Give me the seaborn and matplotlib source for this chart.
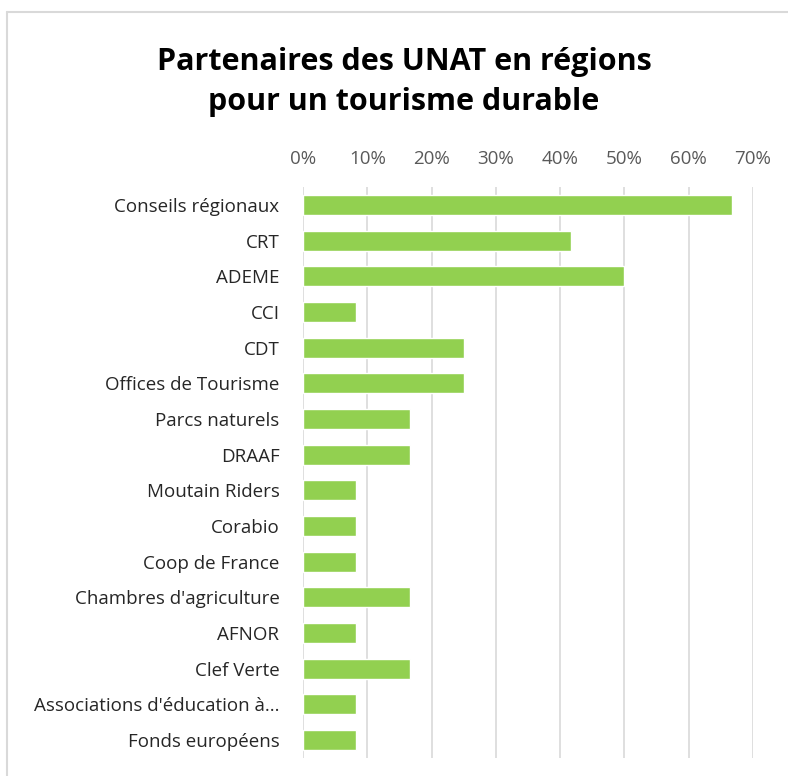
import matplotlib
matplotlib.use("Agg")
import matplotlib.pyplot as plt
import seaborn as sns
import pandas as pd
from matplotlib.lines import Line2D
from matplotlib.ticker import PercentFormatter

categories = ["Conseils régionaux", "CRT", "ADEME", "CCI", "CDT", "Offices de Tourisme",
              "Parcs naturels", "DRAAF", "Moutain Riders", "Corabio", "Coop de France",
              "Chambres d'agriculture", "AFNOR", "Clef Verte", "Associations d'éducation à...",
              "Fonds européens"]
values = [0.667, 0.417, 0.50, 0.083, 0.25, 0.25, 0.167, 0.167, 0.083, 0.083, 0.083,
          0.167, 0.083, 0.167, 0.083, 0.083]
ticks = [0, 0.1, 0.2, 0.3, 0.4, 0.5, 0.6, 0.7]

df = pd.DataFrame({"cat": categories, "val": values})

sns.set_theme(style="white")
plt.rcParams["font.family"] = ["Open Sans", "DejaVu Sans"]

W, H = 788, 776
fig = plt.figure(figsize=(W / 100, H / 100), dpi=100)
ax = fig.add_axes([303 / W, 1 - 758 / H, (753 - 303) / W, (758 - 187) / H])

sns.barplot(data=df, y="cat", x="val", orient="h", color="#92D050", saturation=1,
            width=0.56, ax=ax)

ax.set_xlim(0, 0.7)
ax.set_xticks(ticks)
ax.xaxis.set_major_formatter(PercentFormatter(1.0, decimals=0))
ax.xaxis.tick_top()
ax.set_xlabel("")
ax.set_ylabel("")
ax.grid(axis="x", color="#D9D9D9", linewidth=1.2)
ax.set_axisbelow(True)
for s in ax.spines.values():
    s.set_visible(False)
ax.tick_params(axis="x", length=0, pad=14, labelsize=13.5, labelcolor="#595959")
ax.tick_params(axis="y", length=0, pad=17, labelsize=13.5, labelcolor="#262626")

fig.text(404 / W, 1 - 62 / H, "Partenaires des UNAT en régions", ha="center", va="center",
         fontsize=22, fontweight="bold", color="#000000")
fig.text(404 / W, 1 - 102 / H, "pour un tourisme durable", ha="center", va="center",
         fontsize=22, fontweight="bold", color="#000000")

fig.add_artist(Line2D([7 / W, 1.0], [1 - 12 / H, 1 - 12 / H], transform=fig.transFigure,
                      color="#D9D9D9", linewidth=1.5))
fig.add_artist(Line2D([7 / W, 7 / W], [1 - 12 / H, 0], transform=fig.transFigure,
                      color="#D9D9D9", linewidth=1.5))

fig.savefig("out.png", dpi=100)
